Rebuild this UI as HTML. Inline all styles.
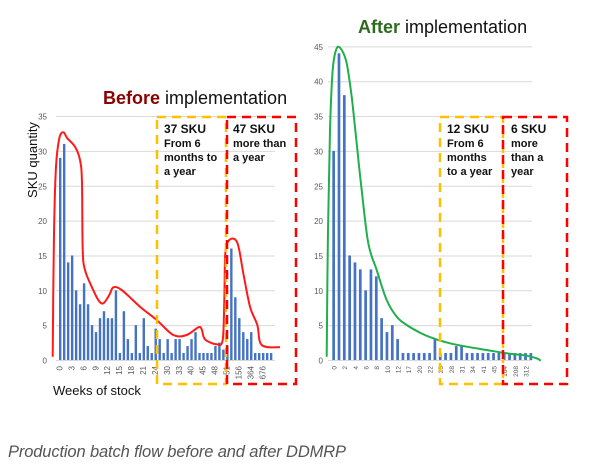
<!DOCTYPE html>
<html><head><meta charset="utf-8"><style>
body{margin:0;background:#fff;width:607px;height:465px;overflow:hidden;font-family:"Liberation Sans",sans-serif}
</style></head><body>
<svg id="s" width="607" height="465" xmlns="http://www.w3.org/2000/svg" font-family="Liberation Sans, sans-serif">
<text x="103" y="104" font-size="18"><tspan fill="#8b0000" font-weight="bold">Before</tspan><tspan fill="#111"> implementation</tspan></text>
<text x="358" y="33" font-size="18"><tspan fill="#2e6b1e" font-weight="bold">After</tspan><tspan fill="#111"> implementation</tspan></text>
<text transform="translate(37,160) rotate(-90)" font-size="13" fill="#111" text-anchor="middle">SKU quantity</text>
<text x="53" y="395" font-size="13" fill="#111">Weeks of stock</text>
<text x="8" y="457" font-size="16.5" fill="#555" font-style="italic" textLength="338">Production batch flow before and after DDMRP</text>
<g id="g"></g>
</svg>
<script>
var g=document.getElementById('g'),h='';
function grid(x1,x2,max,step,lx){for(var v=0;v<=max;v+=step){var y=360.5-v*6.97;h+='<line x1="'+x1+'" x2="'+x2+'" y1="'+y+'" y2="'+y+'" stroke="#d9d9d9" stroke-width="1"/>';h+='<text x="'+lx+'" y="'+(y+3)+'" font-size="8" fill="#595959" text-anchor="end">'+v+'</text>';}}
grid(56,275,35,5,47);grid(328,532,45,5,323);
var L=[29,31,14,15,10,8,11,8,5,4,6,7,6,6,10,1,7,3,1,5,1,6,2,1,4.5,3,1,3,1,3,3,1,2,3,4,1,1,1,1,2,2.5,1.5,2,16,9,6,4,3,4,1,1,1,1,1];
L.forEach(function(v,i){var x=59+i*3.98;h+='<rect x="'+x+'" y="'+(360-v*6.97)+'" width="2.4" height="'+(v*6.97)+'" fill="#4472c4"/>';});
var R=[30,44,38,15,14,13,10,13,12,6,4,5,3,1,1,1,1,1,1,3,1,1,1,2,2,1,1,1,1,1,1,1,1,1,1,1,1,1];
R.forEach(function(v,i){var x=332.3+i*5.33;h+='<rect x="'+x+'" y="'+(360-v*6.97)+'" width="2.7" height="'+(v*6.97)+'" fill="#4472c4"/>';});
var LL=['0','3','6','9','12','15','18','21','24','30','33','40','45','48','51','156','364','676'];
LL.forEach(function(t,i){var x=62.5+i*11.93;h+='<text transform="translate('+x+',366) rotate(-90)" font-size="8" fill="#595959" text-anchor="end">'+t+'</text>';});
var RL=['0','2','4','6','8','10','12','17','20','22','25','28','31','34','41','45','104','208','312'];
RL.forEach(function(t,i){var x=336.5+i*10.67;h+='<text transform="translate('+x+',366) rotate(-90)" font-size="6.5" fill="#595959" text-anchor="end">'+t+'</text>';});
function S(pts,ox,oy){var p=pts.map(function(q){return [q[0]/3+ox,q[1]/3+oy]});var d='M'+p[0][0].toFixed(1)+','+p[0][1].toFixed(1);
for(var i=0;i<p.length-1;i++){var a=p[i-1]||p[i],b=p[i],c=p[i+1],e=p[i+2]||c;
var c1=[b[0]+(c[0]-a[0])/6,b[1]+(c[1]-a[1])/6],c2=[c[0]-(e[0]-b[0])/6,c[1]-(e[1]-b[1])/6];
d+=' C'+c1[0].toFixed(1)+','+c1[1].toFixed(1)+' '+c2[0].toFixed(1)+','+c2[1].toFixed(1)+' '+c[0].toFixed(1)+','+c[1].toFixed(1);}return d;}
var red=[[68,770],[72,400],[78,200],[88,115],[100,97],[112,115],[135,140],[150,180],[156,250],[158,450],[165,510],[185,560],[205,600],[220,610],[238,585],[250,562],[275,570],[330,620],[380,660],[430,705],[470,705],[505,682],[515,688],[525,718],[560,733],[578,720],[583,600],[586,460],[598,420],[622,428],[640,520],[660,620],[682,675],[695,735],[750,742]];
h+='<path d="'+S(red,30,100)+'" fill="none" stroke="#ff1a1a" stroke-width="2"/>';
var grn=[[80,980],[84,600],[90,300],[98,120],[110,55],[125,60],[140,100],[155,200],[170,340],[185,480],[205,640],[230,720],[260,810],[290,860],[320,885],[360,908],[400,925],[450,940],[500,950],[560,960],[620,970],[680,977],[710,985],[722,992]];
h+='<path d="'+S(grn,300,30)+'" fill="none" stroke="#1fb04a" stroke-width="2"/>';
function box(x1,x2,c){h+='<rect x="'+x1+'" y="117" width="'+(x2-x1)+'" height="267" fill="none" stroke="'+c+'" stroke-width="2.5" stroke-dasharray="9,6"/>';}
box(157,226,'#ffc000');box(227,296,'#ff0000');box(440,503,'#ffc000');box(503,567,'#ff0000');
function tx(x,y,lines){lines.forEach(function(t,i){h+='<text x="'+x+'" y="'+(y+i*14)+'" font-size="'+(i==0?12:11)+'" font-weight="bold" fill="#111">'+t+'</text>';});}
tx(164,133,['37 SKU','From 6','months to','a year']);tx(233,133,['47 SKU','more than','a year']);
tx(447,133,['12 SKU','From 6','months','to a year']);tx(511,133,['6 SKU','more','than a','year']);
g.innerHTML=h;
</script>
</body></html>
